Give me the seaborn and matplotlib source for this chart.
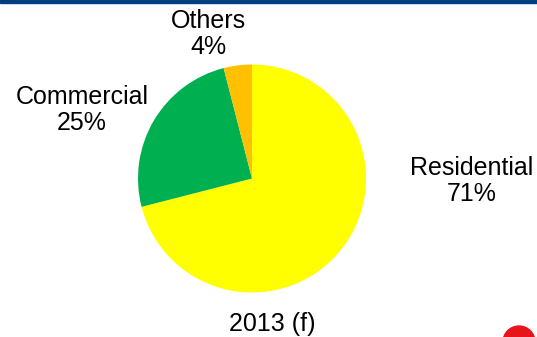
import matplotlib
matplotlib.use("Agg")
import matplotlib.pyplot as plt
import seaborn as sns

# data
segments = ["Residential", "Commercial", "Others"]
shares = [71, 25, 4]
seg_colors = ["#FFFF00", "#00B050", "#FFC000"]
year_label = "2013 (f)"

sns.set_style("white")
plt.rcParams['font.family'] = ['Liberation Sans', 'DejaVu Sans']

fig = plt.figure(figsize=(5.37, 3.37), dpi=100)
ax = fig.add_axes([0, 0, 1, 1])

H = 337
ax.pie(shares, colors=seg_colors, startangle=90, counterclock=False,
       center=(252, H - 178.5), radius=114,
       wedgeprops={'linewidth': 0})

# labels placed like the original slide
label_pos = {"Residential": (472, 181), "Commercial": (82, 110), "Others": (208, 34)}
for name, val in zip(segments, shares):
    x, y = label_pos[name]
    ax.text(x, H - y, f"{name}\n{val}%", ha='center', va='center',
            fontsize=18, color='black', linespacing=1.15)

ax.text(272, H - 324, year_label, ha='center', va='center', fontsize=18, color='black')

# top banner line and the bit of logo in the corner
ax.add_patch(plt.Rectangle((0, H - 3), 537, 3, color='#003F7F', clip_on=False))
ax.add_patch(plt.Circle((519, H - 342), 16, color='#E8141B', clip_on=True))

ax.set_xlim(0, 537)
ax.set_ylim(0, H)
ax.set_aspect('equal')
ax.axis('off')

fig.savefig("out.png", dpi=100)
